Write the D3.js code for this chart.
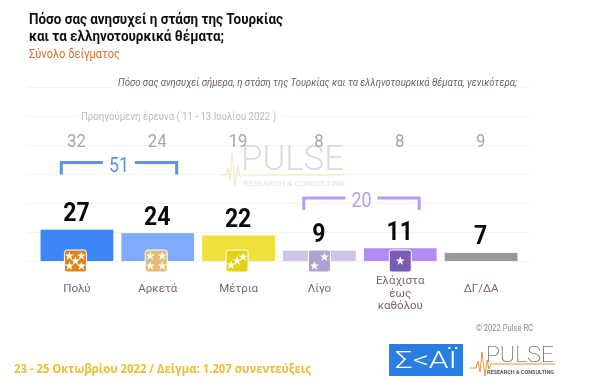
<!DOCTYPE html>
<html><head><meta charset="utf-8">
<script src="https://cdnjs.cloudflare.com/ajax/libs/d3/7.8.5/d3.min.js"></script>
<style>html,body{margin:0;padding:0;background:#fff}svg{display:block;filter:blur(.35px)}text{font-family:Roboto,sans-serif}</style>
</head><body><div id="chart"></div>
<script>
const categories = ["Πολύ","Αρκετά","Μέτρια","Λίγο","Ελάχιστα|έως|καθόλου","ΔΓ/ΔΑ"];
const currentValues = [27,24,22,9,11,7];
const previousValues = [32,24,19,8,8,9];
const barColors = ["#3F86F5","#7FABFA","#EFE03A","#CFC3E8","#B08CF5","#999999"];
const iconColors = ["#DB831C","#E5BB78","#E0D313","#AFA2D2","#7A5CB2",null];
const starLayouts = [
  [[-6,-5],[6,-5],[0,0],[-6,5],[6,5]],
  [[-6,-5],[6,-5],[-6,5],[6,5]],
  [[-6,4],[0,0],[6,-4]],
  [[-5,5],[5,-4]],
  [[0,0]],
  []
];
const groupTotals = [{label:"51",from:0,to:1,color:"#5C92EA",y:162.5},{label:"20",from:3,to:4,color:"#B89CF2",y:198}];
const gridTicks = [0,25,50,75,100,125,150];

const W=600,H=389;
const svg=d3.select("#chart").append("svg").attr("width",W).attr("height",H);
const x=d3.scaleBand().domain(d3.range(categories.length)).range([36.5,521.5]).paddingInner(0.1).paddingOuter(0.05);
const y=d3.scaleLinear().domain([0,150]).range([261,87]);

function txt(s,px,py,size,color,opt={}){
  const t=svg.append("text").attr("x",px).attr("y",py).attr("font-size",size).attr("fill",color)
    .attr("text-anchor",opt.anchor||"start").attr("font-weight",opt.weight||400).text(s);
  if(opt.italic)t.attr("font-style","italic");
  if(opt.family)t.style("font-family",opt.family);
  if(opt.len)t.attr("textLength",opt.len).attr("lengthAdjust","spacingAndGlyphs");
  return t;
}

// gridlines
const gAxis=svg.append("g").attr("transform","translate(530,0)").call(d3.axisRight(y).tickValues(gridTicks).tickSize(-502).tickFormat(""));
gAxis.select(".domain").remove();
gAxis.selectAll(".tick line").attr("stroke","#F4F4F2").attr("stroke-width",1);

// watermark
txt("PULSE",241,170,35,"#DCDCDC",{weight:300,len:103});
svg.append("path").attr("d","M220 175L226 175L228 168L230 180L232 153L235 187L238 165L240 177L243 175L345 175")
  .attr("fill","none").attr("stroke","#F6E6BE").attr("stroke-width",1);
txt("RESEARCH & CONSULTING",243,186,6.5,"#E2E2E2",{len:102});

// masks behind texts on gridlines
svg.append("rect").attr("x",112).attr("y",80).attr("width",410).attr("height",12).attr("fill","#fff");
svg.append("rect").attr("x",78).attr("y",110).attr("width",206).attr("height",12).attr("fill","#fff");

// titles
txt("Πόσο σας ανησυχεί η στάση της Τουρκίας",29,24,14,"#111",{weight:700,len:254});
txt("και τα ελληνοτουρκικά θέματα;",29,41,14,"#111",{weight:700,len:195});
txt("Σύνολο δείγματος",29,58,12.5,"#CF702E",{len:91});
txt("Πόσο σας ανησυχεί σήμερα, η στάση της Τουρκίας και τα ελληνοτουρκικά θέματα, γενικότερα;",118,86,10.5,"#6F5C5C",{italic:true,len:399});
txt("Προηγούμενη έρευνα  ( 11 - 13 Ιουλίου  2022 )",81,120,11,"#B4BCBE",{len:195});

// previous values
svg.selectAll(".prev").data(previousValues).join("text").attr("class","prev")
  .attr("x",(d,i)=>x(i)+x.bandwidth()/2-0.5).attr("y",146.5).attr("text-anchor","middle")
  .attr("font-size",19).attr("fill","#9FA9AC").text(d=>d)
  .attr("textLength",d=>String(d).length*9.4).attr("lengthAdjust","spacingAndGlyphs");

// bars
svg.selectAll(".bar").data(currentValues).join("rect").attr("class","bar")
  .attr("x",(d,i)=>x(i)).attr("width",x.bandwidth())
  .attr("y",d=>y(d)).attr("height",d=>y(0)-y(d))
  .attr("fill",(d,i)=>barColors[i]);

// value labels
svg.selectAll(".val").data(currentValues).join("text").attr("class","val")
  .attr("x",(d,i)=>x(i)+x.bandwidth()/2-0.5).attr("y",d=>y(d)-8.5).attr("text-anchor","middle")
  .attr("font-size",25).attr("font-weight",700).attr("fill","#0A0A0A").text(d=>d)
  .attr("textLength",d=>String(d).length*13.2).attr("lengthAdjust","spacingAndGlyphs");

// star icons
const star=d3.symbol().type(d3.symbolStar).size(26);
categories.forEach((c,i)=>{
  if(!iconColors[i])return;
  const cx=x(i)+x.bandwidth()/2;
  const g=svg.append("g").attr("transform",`translate(${cx-1.5+(i>2?1.5:0)},261)`);
  g.append("rect").attr("x",-11).attr("y",-11).attr("width",22).attr("height",22).attr("rx",2.5)
    .attr("fill",iconColors[i]).attr("stroke","#fff").attr("stroke-width",1);
  g.selectAll("path").data(starLayouts[i]).join("path").attr("d",star)
    .attr("transform",d=>`translate(${d[0]},${d[1]})`).attr("fill","#fff");
});

// category labels
categories.forEach((c,i)=>{
  const cx=x(i)+x.bandwidth()/2;
  const lines=c.split("|");
  const y0=lines.length>1?284:291.5;
  lines.forEach((l,k)=>txt(l,cx,y0+k*12.6,11.5,"#7A6762",{anchor:"middle"}));
});

// group brackets
groupTotals.forEach(g=>{
  const x0=x(g.from)+x.bandwidth()*0.285, x1=x(g.to)+x.bandwidth()*0.76;
  const mx=(x0+x1)/2;
  const st=s=>s.attr("fill","none").attr("stroke",g.color).attr("stroke-width",3);
  st(svg.append("path").attr("d",`M${x0} ${g.y+12}V${g.y}H${mx-16}`));
  st(svg.append("path").attr("d",`M${x1} ${g.y+12}V${g.y}H${mx+16}`));
  txt(g.label,mx,g.y+9,20,g.color,{anchor:"middle",len:20});
});

// footer
txt("© 2022 Pulse RC",476,331,9,"#8A8A8A",{len:57});
txt("23 - 25  Οκτωβρίου  2022  /  Δείγμα:  1.207 συνεντεύξεις",14,373,12,"#EDBC30",{weight:700,family:"'Open Sans', sans-serif",len:297});

// SKAI logo
svg.append("rect").attr("x",389).attr("y",344).attr("width",74).attr("height",32).attr("fill","#2A7DE1");
txt("Σ<ΑΪ",426,368,24,"#fff",{anchor:"middle",weight:300,len:62});

// Pulse logo
svg.append("path").attr("d","M470 368L476 368L478 361L480 372L482 352L485 376L487 360L489 369L491 364L555 364")
  .attr("fill","none").attr("stroke","#E3963A").attr("stroke-width",1);
txt("PULSE",486,362,22,"#444",{weight:100,len:68});
txt("RESEARCH & CONSULTING",487,374,4.8,"#555",{weight:700,len:67});
</script></body></html>
